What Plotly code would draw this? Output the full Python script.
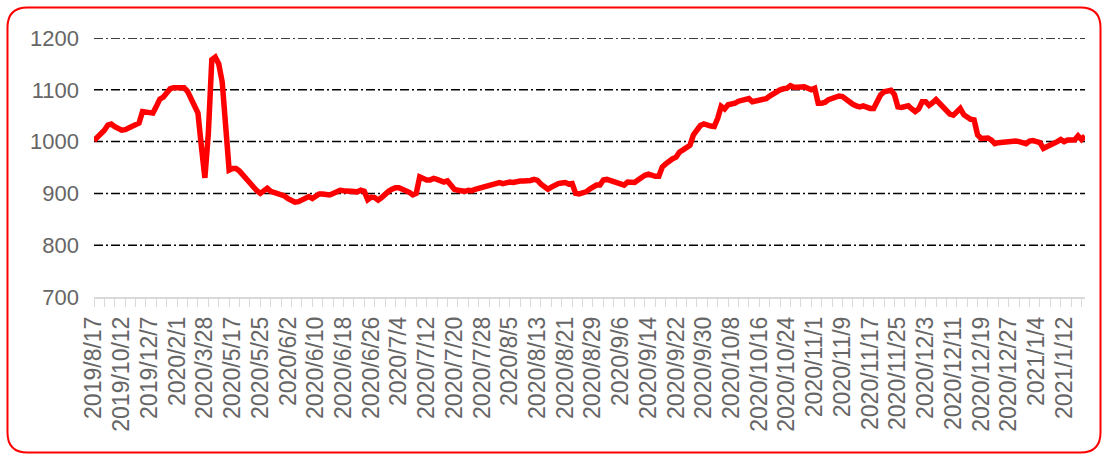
import pandas as pd
import plotly.graph_objects as go

# ---- categories ----
weekly_dates = pd.date_range("2019-08-17", periods=40, freq="7D")
daily_dates = pd.date_range("2020-05-17", "2021-01-18", freq="D")
dates = [f"{d.year}/{d.month}/{d.day}" for d in list(weekly_dates) + list(daily_dates)]

# ---- values ----
weekly_values = [
    1002, 1008, 1013, 1022, 1032, 1034, 1029, 1024, 1022, 1023,
    1027, 1030, 1032, 1036, 1058, 1057, 1055, 1055, 1068, 1082,
    1086, 1095, 1102, 1104, 1104, 1104, 1104, 1097, 1082, 1070,
    1055, 990, 930, 1016, 1158, 1163, 1150, 1115, 1040, 945,
]
daily_values = [
    948, 948, 943, 935, 927, 920, 912, 905, 900, 904,
    910, 904, 902, 899, 897, 895, 890, 886, 883, 884,
    888, 891, 894, 890, 894, 899, 899, 898, 897, 900,
    904, 906, 905, 904, 904, 904, 903, 906, 904, 888,
    893, 892, 887, 892, 899, 904, 908, 911, 911, 908,
    906, 902, 897, 900, 932, 928, 926, 926, 929, 927,
    925, 922, 924, 917, 908, 906, 905, 904, 906, 905,
    908, 910, 911, 913, 914, 916, 918, 921, 919, 921,
    922, 921, 923, 924, 924, 924, 925, 927, 925, 918,
    914, 908, 912, 916, 919, 920, 921, 918, 919, 900,
    899, 901, 903, 908, 913, 916, 916, 926, 927, 925,
    923, 920, 917, 916, 922, 922, 921, 926, 932, 935,
    937, 934, 933, 933, 951, 957, 963, 967, 970, 980,
    984, 990, 993, 1013, 1024, 1031, 1034, 1031, 1030, 1029,
    1045, 1068, 1063, 1071, 1072, 1074, 1078, 1080, 1080, 1083,
    1077, 1079, 1080, 1081, 1083, 1088, 1093, 1096, 1100, 1102,
    1103, 1108, 1105, 1105, 1105, 1106, 1103, 1100, 1103, 1074,
    1074, 1076, 1081, 1084, 1086, 1088, 1087, 1082, 1074, 1072,
    1069, 1067, 1069, 1066, 1064, 1064, 1080, 1090, 1096, 1098,
    1099, 1091, 1067, 1066, 1067, 1069, 1063, 1058, 1063, 1077,
    1077, 1070, 1075, 1081, 1074, 1066, 1058, 1053, 1051, 1058,
    1064, 1052, 1046, 1043, 1042, 1013, 1006, 1006, 1007, 1003,
    996, 998, 999, 1000, 1001, 1002, 1001, 1000, 998, 996,
    1001, 1002, 1000, 998, 987, 990, 992, 995, 1000, 1004,
    1000, 1003, 1004, 1003, 1011, 1004, 1011,
]
values = weekly_values + daily_values
assert len(values) == len(dates), (len(values), len(dates))

y_ticks = [700, 800, 900, 1000, 1100, 1200]
grid_levels = [800, 900, 1000, 1100, 1200]

# ---- layout geometry (pixels) ----
W, H = 1107, 456
L, R, T, B = 94, 22, 38, 159
pw, ph = W - L - R, H - T - B
GREY = "#666666"
FONT = "Liberation Sans"


def px2paper(x, y):
    return (x - L) / pw, (H - B - y) / ph


fig = go.Figure()
fig.add_trace(go.Scatter(
    x=dates, y=values, mode="lines",
    line=dict(color="#ff0000", width=5.5),
    showlegend=False, hoverinfo="x+y",
))
# invisible companion trace for the label axis
fig.add_trace(go.Scatter(
    x=dates, y=values, mode="lines", xaxis="x2",
    line=dict(color="rgba(0,0,0,0)", width=0),
    showlegend=False, hoverinfo="skip",
))

shapes = []
for g in grid_levels:
    shapes.append(dict(
        type="line", xref="paper", yref="y", x0=0, x1=1, y0=g, y1=g,
        line=dict(color="black", width=1.5, dash="9px,3px,2px,3px"),
        layer="below",
    ))

# rounded red frame
x0, y0, x1, y1, r = 7.5, 7.5, 1100.5, 452.5, 20


def P(x, y):
    a, b = px2paper(x, y)
    return f"{a:.5f},{b:.5f}"


path = (
    f"M{P(x0 + r, y0)} L{P(x1 - r, y0)} Q{P(x1, y0)} {P(x1, y0 + r)} "
    f"L{P(x1, y1 - r)} Q{P(x1, y1)} {P(x1 - r, y1)} "
    f"L{P(x0 + r, y1)} Q{P(x0, y1)} {P(x0, y1 - r)} "
    f"L{P(x0, y0 + r)} Q{P(x0, y0)} {P(x0 + r, y0)} Z"
)
shapes.append(dict(type="path", xref="paper", yref="paper", path=path,
                   line=dict(color="#ff0000", width=2), layer="above"))

n = len(dates)
fig.update_layout(
    width=W, height=H,
    margin=dict(l=L, r=R, t=T, b=B, autoexpand=False),
    paper_bgcolor="white", plot_bgcolor="white",
    font=dict(family=FONT, color=GREY, size=22),
    shapes=shapes,
    xaxis=dict(
        type="category", categoryorder="array", categoryarray=dates,
        range=[0, n - 1], showgrid=False, zeroline=False,
        showline=True, linecolor="#d9d9d9", linewidth=2,
        tickmode="array", tickvals=dates[::3], ticks="outside",
        ticklen=8, tickwidth=1, tickcolor="#d9d9d9",
        showticklabels=False, automargin=False,
    ),
    xaxis2=dict(
        type="category", categoryorder="array", categoryarray=dates,
        overlaying="x", anchor="y", side="bottom",
        range=[0, n - 1], showgrid=False, zeroline=False, showline=False,
        tickmode="array", tickvals=dates[::8], ticktext=dates[::8],
        ticks="", tickangle=-90, ticklabelstandoff=14,
        tickfont=dict(family=FONT, size=23, color=GREY), automargin=False,
    ),
    yaxis=dict(
        range=[700, 1200], tickmode="array", tickvals=y_ticks,
        showgrid=False, zeroline=False, showline=False, ticks="",
        ticklabelstandoff=14, tickfont=dict(family=FONT, size=22, color=GREY),
        automargin=False,
    ),
)

fig.write_html(
    "out.html",
    config={"displayModeBar": False},
    post_script="document.body.style.margin='0';document.body.style.overflow='hidden';",
)
